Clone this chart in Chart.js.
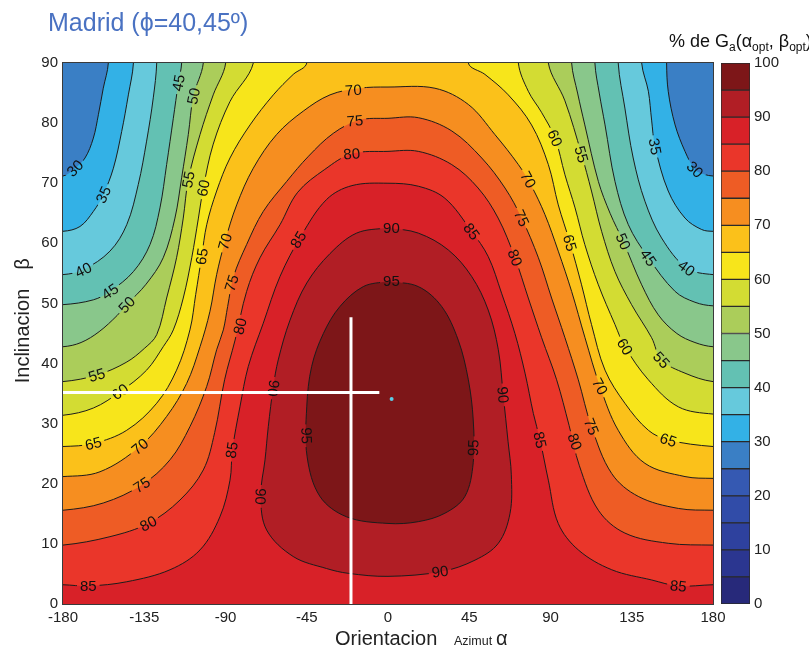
<!DOCTYPE html>
<html>
<head>
<meta charset="utf-8">
<script src="https://cdn.jsdelivr.net/npm/chart.js@4.4.1/dist/chart.umd.min.js"></script>
<style>
  html, body { margin: 0; padding: 0; background: #fff; }
  #marco { position: relative; width: 809px; height: 651px; overflow: hidden; }
  #marco canvas { position: absolute; top: 0; }
</style>
</head>
<body>
<div id="marco">
  <canvas id="mapa" width="809" height="651" style="left:0"></canvas>
  <canvas id="barra" width="149" height="651" style="left:660px"></canvas>
</div>
<script>
var fuente = '"Liberation Sans", Arial, Helvetica, sans-serif';
Chart.defaults.font.family = fuente;
Chart.defaults.color = '#222';

// bandas de la barra de color (cada 5 %)
var bandas = [0, 5, 10, 15, 20, 25, 30, 35, 40, 45, 50, 55, 60, 65, 70, 75, 80, 85, 90, 95];
var coloresBanda = ['#27297a', '#2b3690', '#2e419e', '#314ca8', '#3559b2', '#3a7fc5', '#33b1e6',
  '#66c9dc', '#63c1b3', '#89c78b', '#abcd5a', '#d3dc33', '#f7e51b', '#fbc11a', '#f68e20',
  '#ee5c25', '#ea362a', '#d82128', '#b11e25', '#7d1618'];
var ticksBarra = [0, 10, 20, 30, 40, 50, 60, 70, 80, 90, 100];

// ejes del mapa
var ticksAzimut = [-180, -135, -90, -45, 0, 45, 90, 135, 180];
var ticksInclinacion = [0, 10, 20, 30, 40, 50, 60, 70, 80, 90];

// curvas de nivel: [azimut, inclinacion]
// i = rama izquierda (borde -180 hasta arriba), d = rama derecha (arriba hasta borde 180)
var c30i = [[-180,71.2],[-173.4,72.5],[-167.8,74.2],[-163.2,77.5],[-160.4,81.4],[-157.7,85.8],[-154.9,90]];
var c30d = [[154.3,90],[155.2,85.3],[159,79.7],[164.5,75.3],[170,72.3],[175,71.5],[180,71.2]];
var c35i = [[-180,62.0],[-170.6,62.8],[-163.2,65.3],[-157.7,68.1],[-152.1,72.5],[-147.5,78.6],[-143.8,84.7],[-141,90]];
var c35d = [[140.5,90],[144.2,85.3],[146,80.5],[147.9,76.1],[155.2,68.7],[164.5,64.2],[173.7,62.3],[180,62.0]];
var c40i = [[-180,54.8],[-168.8,55.6],[-154,58.7],[-144.7,63.1],[-138.3,69.8],[-133.7,77.0],[-130,84.2],[-128.1,90]];
var c40d = [[127.5,90],[131.2,82.5],[135.8,74.2],[142.3,67.0],[151.5,60.9],[165.4,55.9],[180,54.8]];
var c45i = [[-180,49.8],[-163.2,50.6],[-154,52.0],[-141,55.3],[-131.8,59.8],[-126.3,65.9],[-122.6,73.1],[-118.9,80.8],[-116.1,86.7],[-114.3,90]];
var c45d = [[114.6,90],[117,85],[120.2,79.7],[125.7,70.3],[133.1,63.1],[144.2,57.6],[159,52.0],[170,50.2],[180,49.6]];
var c50i = [[-180,42.8],[-170,43.5],[-160,45.3],[-150,48],[-144.7,49.8],[-134,53.2],[-124.5,57.6],[-118,64.2],[-114.3,70.9],[-110.6,78.1],[-107.8,84.5],[-102.3,90]];
var c50d = [[101.7,90],[105,85],[109,79.7],[116.5,70.3],[123,65],[130.3,60.3],[140.5,53.1],[149.7,48.1],[160,45],[170,43.5],[180,42.8]];
var c55i = [[-180,37.0],[-161,38.1],[-145,40.2],[-135,42.5],[-128.1,44.8],[-122.6,50.9],[-117.1,57.6],[-113.4,64.2],[-110.6,70.6],[-104.1,78.1],[-96.8,84.7],[-89.9,90]];
var c55d = [[88.8,90],[98,83.7],[107.2,74.8],[112.7,68.7],[118.3,62.0],[125.7,55.3],[134.9,49.8],[146,44.3],[151.5,40.6],[164.5,38.4],[180,37.0]];
var c60i = [[-180,31.4],[-163.2,32.6],[-148.4,35.3],[-133.7,38.9],[-124.5,42.8],[-118.9,45.6],[-113.4,50.9],[-108.7,57.6],[-105,64.2],[-102.3,69.2],[-96.8,76.5],[-87.5,83.6],[-74.6,90]];
var c60d = [[72.2,90],[77.7,85.3],[85,81.8],[92.5,77.5],[98,71.4],[103.6,65.9],[109,59.8],[116.5,53.1],[125.7,46.5],[131.2,42.8],[144.2,37.3],[160.8,32.8],[180,31.6]];
var c65i = [[-180,26.2],[-163.2,26.7],[-144.7,28.9],[-128.1,33.4],[-117.1,38.9],[-109.7,45.6],[-106.5,51.5],[-103.2,57.8],[-100.4,63.1],[-94.9,68.7],[-87.5,74.2],[-76.4,79.7],[-63.5,84.7],[-52.5,88.1],[-45,90]];
var c65d = [[44.5,90],[53.7,88.1],[66.6,84.7],[79.5,79.7],[88.8,73.1],[94.3,66.4],[100.8,60.1],[107.2,53.1],[112.7,46.5],[120.2,38.9],[131.2,33.4],[144.2,28.9],[155.2,27.3],[180,26.2]];
var c70 = [[-180,21.2],[-159.5,22.0],[-137.4,26.2],[-122.6,31.2],[-111.5,36.7],[-104.1,42.8],[-98.6,48.7],[-94.9,54.8],[-90.3,60.3],[-83.8,66.4],[-74.6,72.5],[-61.7,78.1],[-46.9,82.0],[-32.1,84.7],[-16,85.8],[0,86.0],[26,85.8],[44.5,83.1],[59.2,78.1],[72.2,73.1],[79,69.8],[86.9,64.8],[94.3,58.7],[101.7,52.0],[109.1,44.3],[117.4,36.2],[127.5,28.9],[142.3,23.4],[164.5,21.2],[180,20.9]];
var c75 = [[-180,15.6],[-157.7,16.8],[-136.4,19.8],[-120.7,24.0],[-109.7,29.5],[-100.4,36.2],[-94.9,42.3],[-91.2,45.6],[-88.8,49.5],[-85.5,54.5],[-78.3,59.8],[-69.1,65.3],[-56.1,70.3],[-44,74.5],[-30.3,78.3],[-16,80.5],[0,80.8],[16.8,80.9],[35.3,78.7],[51.9,74.2],[64.8,69.2],[74,64.2],[83.3,57.6],[90.6,50.9],[98,44.3],[105.4,37.3],[112.7,29.5],[123.9,21.7],[138.6,17.9],[160.8,15.9],[180,15.6]];
var c80 = [[-180,9.8],[-154,11.2],[-132.8,13.4],[-115.2,17.3],[-102.3,22.3],[-96,28.5],[-90.5,37.3],[-84.7,43.9],[-78.3,52.0],[-70.9,57.6],[-59.8,63.1],[-50,68.5],[-35,72.3],[-20,74.9],[0,75.3],[16.8,75.3],[35.3,73.1],[49.9,69.2],[61,64.2],[70.3,57.6],[77.7,50.9],[85.1,44.3],[93.4,37.3],[100.3,29.7],[106,23],[116.5,15.6],[131.2,11.8],[155.2,10.1],[180,9.8]];
var c85 = [[-180,3.2],[-166,3.0],[-144.7,3.7],[-120.7,5.7],[-104.1,9.0],[-93.1,14.5],[-87.5,20.6],[-86.2,25.6],[-82,32.8],[-77.4,39.5],[-69.1,46.7],[-59.8,54.5],[-48,61.3],[-34,67.3],[-20,69.6],[0,70.0],[16.8,69.5],[31.5,67.5],[46.3,62.0],[55.5,57.8],[62.9,51.7],[70.3,45.0],[75.9,38.4],[80.5,31.7],[84.2,27.3],[88.8,20.6],[94.3,13.4],[105.4,9.0],[123.9,5.7],[146,4.0],[160.8,3.0],[180,3.2]];
// curvas cerradas
var c90 = [[0,62.6],[16.8,61.7],[33.4,58.9],[46.3,54.5],[55.5,48.9],[61.1,42.3],[63.8,34.8],[66.5,27],[68.3,21.5],[67.6,15.1],[61.1,10.1],[48.2,7.3],[29.7,5.4],[0,4.6],[-22,5.1],[-34,5.9],[-52.5,7.9],[-67.2,12.3],[-70.5,17.9],[-68.1,24],[-66.3,29.5],[-63.5,36.2],[-60.8,40.6],[-54.3,47.2],[-45,53.4],[-32.1,58.3],[-17.4,61.7],[0,62.6]];
var c95 = [[0,53.7],[16.8,52.8],[29.7,49.5],[38.9,43.9],[44.5,37.3],[47.2,30.6],[47.2,23.5],[42.6,17.9],[31.5,15.1],[16.8,13.7],[0,13.4],[-22.9,14.5],[-37.7,17.9],[-44.8,24.5],[-45,32.8],[-42.3,39.5],[-35.8,45.0],[-26.6,49.5],[-13.7,52.8],[0,53.7]];

var niveles = [30, 35, 40, 45, 50, 55, 60, 65, 70, 75, 80, 85, 90, 95];
var ramas = [[c30i, c30d], [c35i, c35d], [c40i, c40d], [c45i, c45d], [c50i, c50d], [c55i, c55d],
  [c60i, c60d], [c65i, c65d], [c70], [c75], [c80], [c85], [c90], [c95]];

// etiquetas de las curvas: [texto, azimut, inclinacion, giro en grados]
var etiquetas = [
  ['30',-173.4,72.5,-45], ['35',-157.7,68.1,-65], ['40',-168.8,55.6,-26], ['45',-154,52.0,-35], ['50',-144.7,49.8,-47],
  ['45',-116.1,86.7,-80], ['50',-107.8,84.5,-78], ['55',-110.6,70.6,-79], ['60',-102.3,69.2,-79],
  ['65',-103.2,57.8,-81], ['70',-90.3,60.3,-74], ['75',-86.6,53.4,-73], ['80',-82,46.2,-77], ['85',-49.7,60.6,-59],
  ['70',-19.2,85.5,-4], ['75',-18.3,80.4,-4], ['80',-20.1,74.9,-5], ['90',1.9,62.5,0], ['95',1.9,53.7,0],
  ['55',-161.3,38.1,-17], ['60',-148.4,35.3,-36], ['65',-163.2,26.7,-14], ['70',-137.4,26.2,-40], ['75',-136.4,19.8,-33],
  ['80',-132.8,13.4,-28], ['85',-166,3.0,0], ['85',-86.6,25.6,-82], ['90',-63.5,35.9,98], ['90',-70.6,17.9,92], ['95',-45,28,88],
  ['90',63.8,34.8,85], ['95',47.2,26,-88], ['85',84.2,27.3,77], ['80',103.5,27,71], ['75',112.7,29.5,68], ['70',117.4,36.2,62],
  ['65',155.2,27.3,18], ['60',131.2,42.8,59], ['55',151.5,40.6,47], ['90',28.8,5.4,-8], ['85',160.8,3.0,6],
  ['60',92.5,77.5,66], ['55',107.2,74.8,74], ['35',147.9,76.1,79], ['30',170,72.3,45], ['70',77.7,70.6,62], ['75',74,64.2,65],
  ['85',46.3,62.0,53], ['80',70.3,57.6,69], ['65',100.8,60.1,74], ['50',130.3,60.3,66], ['45',144.2,57.6,55], ['40',165.4,55.9,36]
];

// marcas blancas y punto optimo
var guiaVertical = [[-20.5, 0], [-20.5, 47.7]];
var guiaHorizontal = [[-180, 35.2], [-4.8, 35.2]];
var optimo = [2.0, 34.1];

function puntos(lista) {
  return lista.map(function (p) { return {x: p[0], y: p[1]}; });
}

// region >= nivel como poligono cerrado (los tramos fuera del area se recortan)
function poligono(nivel, izq, der) {
  if (nivel >= 90) return puntos(izq);
  var p = [{x: 200, y: -10}, {x: -200, y: -10}, {x: -200, y: izq[0][1]}];
  p = p.concat(puntos(izq));
  if (der) {
    p.push({x: izq[izq.length - 1][0], y: 100}, {x: der[0][0], y: 100});
    p = p.concat(puntos(der));
  }
  var fin = der || izq;
  p.push({x: 200, y: fin[fin.length - 1][1]});
  return p;
}

var datasets = [
  {data: puntos([optimo]), showLine: false, pointRadius: 2, pointBackgroundColor: '#5ccde6', pointBorderWidth: 0, clip: 0},
  {data: puntos(guiaHorizontal), showLine: true, borderColor: '#ffffff', borderWidth: 3, pointRadius: 0, tension: 0, clip: 0},
  {data: puntos(guiaVertical), showLine: true, borderColor: '#ffffff', borderWidth: 3, pointRadius: 0, tension: 0, clip: 0}
];
for (var k = niveles.length - 1; k >= 0; k--) {
  var n = niveles[k];
  datasets.push({
    nivel: n,
    data: poligono(n, ramas[k][0], ramas[k][1]),
    showLine: true,
    fill: 'shape',
    backgroundColor: coloresBanda[bandas.indexOf(n)],
    borderColor: '#1c1c1c',
    borderWidth: 1,
    pointRadius: 0,
    tension: 0.35,
    clip: 0
  });
}
var indiceSuperior = 3; // la curva de 95 se dibuja la ultima

function cajaEtiqueta(ctx, x, y, ang, w, h) {
  var c = Math.cos(ang), s = Math.sin(ang);
  var esq = [[-w / 2, -h / 2], [w / 2, -h / 2], [w / 2, h / 2], [-w / 2, h / 2]];
  esq.forEach(function (e, i) {
    var px = x + e[0] * c - e[1] * s, py = y + e[0] * s + e[1] * c;
    if (i === 0) ctx.moveTo(px, py); else ctx.lineTo(px, py);
  });
  ctx.closePath();
}

var pluginMapa = {
  id: 'mapa',
  beforeDatasetsDraw: function (chart) {
    var a = chart.chartArea, ctx = chart.ctx;
    ctx.save();
    ctx.fillStyle = coloresBanda[bandas.indexOf(25)];
    ctx.fillRect(a.left, a.top, a.right - a.left, a.bottom - a.top);
    ctx.restore();
  },
  // hueco en la linea bajo cada etiqueta
  beforeDatasetDraw: function (chart, args) {
    var ds = chart.data.datasets[args.index];
    if (ds.nivel === undefined) return;
    var ctx = chart.ctx, xs = chart.scales.x, ys = chart.scales.y;
    ctx.save();
    ctx.font = '15px ' + fuente;
    ctx.beginPath();
    ctx.rect(0, 0, chart.width, chart.height);
    etiquetas.forEach(function (e) {
      if (+e[0] !== ds.nivel) return;
      cajaEtiqueta(ctx, xs.getPixelForValue(e[1]), ys.getPixelForValue(e[2]), e[3] * Math.PI / 180,
        ctx.measureText(e[0]).width + 6, 12);
    });
    ctx.clip('evenodd');
  },
  afterDatasetDraw: function (chart, args) {
    var ds = chart.data.datasets[args.index];
    if (ds.nivel === undefined) return;
    var ctx = chart.ctx;
    ctx.restore();
    if (args.index !== indiceSuperior) return;
    var xs = chart.scales.x, ys = chart.scales.y;
    ctx.save();
    ctx.font = '15px ' + fuente;
    ctx.fillStyle = '#111';
    ctx.textAlign = 'center';
    ctx.textBaseline = 'middle';
    etiquetas.forEach(function (e) {
      ctx.save();
      ctx.translate(xs.getPixelForValue(e[1]), ys.getPixelForValue(e[2]));
      ctx.rotate(e[3] * Math.PI / 180);
      ctx.fillText(e[0], 0, 1);
      ctx.restore();
    });
    ctx.restore();
  },
  afterDraw: function (chart) {
    var a = chart.chartArea, ctx = chart.ctx;
    ctx.save();
    ctx.strokeStyle = '#3a3a3a';
    ctx.lineWidth = 1;
    ctx.strokeRect(a.left - 0.5, a.top - 0.5, a.right - a.left + 1, a.bottom - a.top + 1);
    // titulo
    ctx.fillStyle = '#4a72c2';
    ctx.font = '25px ' + fuente;
    ctx.textBaseline = 'alphabetic';
    ctx.fillText('Madrid (\u03d5=40,45\u00ba)', 48, 31);
    // titulo eje x
    ctx.fillStyle = '#222';
    ctx.font = '20px ' + fuente;
    ctx.fillText('Orientacion', 335, 645);
    ctx.font = '12.5px ' + fuente;
    ctx.fillText('Azimut', 454, 645);
    ctx.font = '20px ' + fuente;
    ctx.fillText('\u03b1', 496, 645);
    // titulo eje y
    ctx.translate(29, 336);
    ctx.rotate(-Math.PI / 2);
    ctx.textAlign = 'center';
    ctx.fillText('Inclinacion', 0, 0);
    ctx.fillText('\u03b2', 72, 0);
    ctx.restore();
  }
};

new Chart(document.getElementById('mapa'), {
  type: 'scatter',
  data: {datasets: datasets},
  options: {
    responsive: false,
    animation: false,
    events: [],
    layout: {padding: {left: 0, top: 63, right: 96, bottom: 0}},
    plugins: {legend: {display: false}, tooltip: {enabled: false}},
    elements: {line: {capBezierPoints: false, borderJoinStyle: 'round'}},
    scales: {
      x: {
        type: 'linear', min: -180, max: 180,
        afterBuildTicks: function (s) { s.ticks = ticksAzimut.map(function (v) { return {value: v}; }); },
        ticks: {autoSkip: false, maxRotation: 0, padding: 5, font: {size: 15}, color: '#222'},
        grid: {display: false, drawTicks: false}, border: {display: false},
        afterFit: function (s) { s.height = 47; }
      },
      y: {
        type: 'linear', min: 0, max: 90,
        afterBuildTicks: function (s) { s.ticks = ticksInclinacion.map(function (v) { return {value: v}; }); },
        ticks: {padding: 5, font: {size: 15}, color: '#222'},
        grid: {display: false, drawTicks: false}, border: {display: false},
        afterFit: function (s) { s.width = 63; }
      }
    }
  },
  plugins: [pluginMapa]
});

// barra de color
var pluginBarra = {
  id: 'barra',
  afterDraw: function (chart) {
    var ctx = chart.ctx, x = 9, y = 47;
    ctx.save();
    ctx.fillStyle = '#111';
    ctx.textBaseline = 'alphabetic';
    var partes = [['% de G', 18, 0], ['a', 12, 4], ['(\u03b1', 18, 0], ['opt', 12, 4], [', \u03b2', 18, 0], ['opt', 12, 4], [')', 18, 0]];
    partes.forEach(function (p) {
      ctx.font = p[1] + 'px ' + fuente;
      ctx.fillText(p[0], x, y + p[2]);
      x += ctx.measureText(p[0]).width;
    });
    ctx.restore();
  }
};

new Chart(document.getElementById('barra'), {
  type: 'bar',
  data: {
    labels: [''],
    datasets: bandas.map(function (b, i) {
      return {
        data: [[b, b + 5]],
        backgroundColor: coloresBanda[i],
        borderColor: '#2a2a2a',
        borderWidth: 1,
        borderSkipped: false,
        barPercentage: 1,
        categoryPercentage: 1
      };
    })
  },
  options: {
    responsive: false,
    animation: false,
    events: [],
    layout: {padding: {left: 61, top: 63, right: 0, bottom: 47}},
    plugins: {legend: {display: false}, tooltip: {enabled: false}},
    scales: {
      x: {stacked: true, display: false},
      y: {
        stacked: false, position: 'right', min: 0, max: 100,
        afterBuildTicks: function (s) { s.ticks = ticksBarra.map(function (v) { return {value: v}; }); },
        ticks: {padding: 4, font: {size: 15}, color: '#222'},
        grid: {display: false, drawTicks: false}, border: {display: false},
        afterFit: function (s) { s.width = 59; }
      }
    }
  },
  plugins: [pluginBarra]
});
</script>
</body>
</html>
